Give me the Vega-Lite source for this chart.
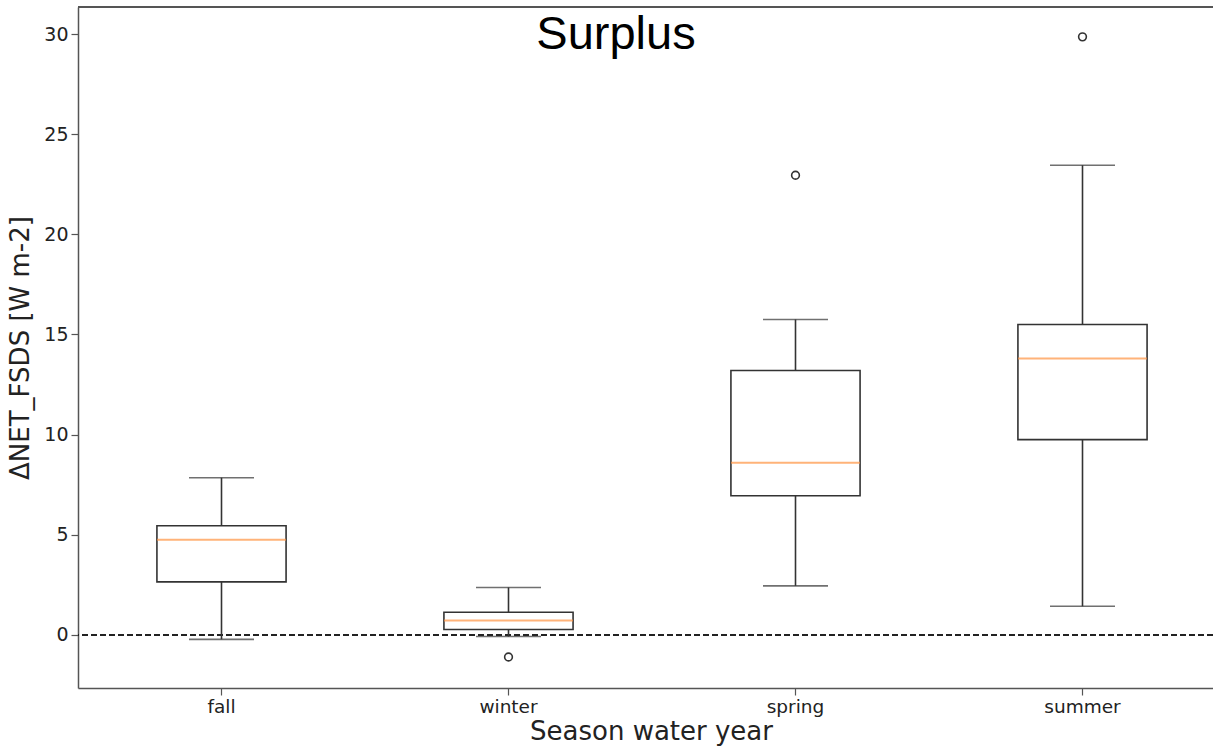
{
  "$schema": "https://vega.github.io/schema/vega-lite/v6.json",
  "width": 1135,
  "height": 681,
  "autosize": {"type": "none"},
  "padding": {"left": 78, "top": 7, "right": 0, "bottom": 60},
  "background": "white",
  "config": {
    "view": {"stroke": null},
    "axis": {
      "labelFont": "DejaVu Sans",
      "titleFont": "DejaVu Sans",
      "labelColor": "#222",
      "titleColor": "#222",
      "titleFontWeight": "normal",
      "domainColor": "#555",
      "domainWidth": 1.5,
      "tickColor": "#555",
      "tickWidth": 1.2,
      "tickSize": 7,
      "grid": false
    }
  },
  "datasets": {
    "stats": [
      {"season": "fall", "lo": -0.22, "q1": 2.65, "med": 4.75, "q3": 5.45, "hi": 7.85},
      {"season": "winter", "lo": -0.08, "q1": 0.27, "med": 0.72, "q3": 1.13, "hi": 2.37},
      {"season": "spring", "lo": 2.45, "q1": 6.95, "med": 8.6, "q3": 13.2, "hi": 15.75},
      {"season": "summer", "lo": 1.43, "q1": 9.75, "med": 13.8, "q3": 15.5, "hi": 23.45}
    ],
    "outliers": [
      {"season": "winter", "value": -1.1},
      {"season": "spring", "value": 22.95},
      {"season": "summer", "value": 29.86}
    ],
    "label": [
      {"text": "Surplus"}
    ]
  },
  "resolve": {"scale": {"x": "independent"}},
  "layer": [
    {
      "data": {"name": "stats"},
      "encoding": {
        "x": {
          "field": "season",
          "type": "nominal",
          "sort": ["fall", "winter", "spring", "summer"],
          "scale": {"type": "band", "paddingInner": 0.55, "paddingOuter": 0.275, "range": [0, 1148]},
          "axis": {
            "labelAngle": 0,
            "labelFontSize": 18.5,
            "labelPadding": 2,
            "title": "Season water year",
            "titleFontSize": 26,
            "titlePadding": 3,
            "titleX": 573,
            "domain": true
          }
        }
      },
      "layer": [
        {
          "mark": {"type": "rule", "color": "#222", "strokeWidth": 1.8, "strokeDash": [6, 3]},
          "encoding": {"x": null, "y": {"datum": 0, "type": "quantitative"}}
        },
        {
          "mark": {"type": "rule", "color": "#555", "strokeWidth": 1.5},
          "encoding": {"x": null, "y": {"datum": 31.35, "type": "quantitative"}}
        },
        {
          "mark": {"type": "rule", "color": "#333", "strokeWidth": 1.6},
          "encoding": {
            "y": {
              "field": "lo",
              "type": "quantitative",
              "scale": {"domain": [-2.65, 31.35], "nice": false, "zero": false},
              "axis": {
                "values": [0, 5, 10, 15, 20, 25, 30],
                "labelFontSize": 19,
                "labelPadding": 3,
                "title": "ΔNET_FSDS [W m-2]",
                "titleFontSize": 26,
                "titlePadding": 10
              }
            },
            "y2": {"field": "q1"}
          }
        },
        {
          "mark": {"type": "rule", "color": "#333", "strokeWidth": 1.6},
          "encoding": {"y": {"field": "q3", "type": "quantitative"}, "y2": {"field": "hi"}}
        },
        {
          "mark": {"type": "bar", "fill": "white", "fillOpacity": 0, "stroke": "#333", "strokeWidth": 1.6},
          "encoding": {"y": {"field": "q1", "type": "quantitative"}, "y2": {"field": "q3"}}
        },
        {
          "mark": {"type": "tick", "color": "#333", "size": 65, "thickness": 1.6},
          "encoding": {"y": {"field": "lo", "type": "quantitative"}}
        },
        {
          "mark": {"type": "tick", "color": "#333", "size": 65, "thickness": 1.6},
          "encoding": {"y": {"field": "hi", "type": "quantitative"}}
        },
        {
          "mark": {"type": "tick", "color": "#ff9340", "size": 129, "thickness": 2},
          "encoding": {"y": {"field": "med", "type": "quantitative"}}
        },
        {
          "data": {"name": "outliers"},
          "mark": {"type": "point", "shape": "circle", "filled": false, "color": "#333", "size": 60, "strokeWidth": 1.6, "opacity": 1},
          "encoding": {"y": {"field": "value", "type": "quantitative"}}
        }
      ]
    },
    {
      "data": {"name": "label"},
      "mark": {"type": "text", "font": "Liberation Sans", "fontSize": 47, "color": "#000", "align": "center", "baseline": "alphabetic"},
      "encoding": {
        "text": {"field": "text"},
        "x": {"datum": 0.474, "type": "quantitative", "scale": {"domain": [0, 1], "range": [0, 1135]}, "axis": null},
        "y": {"datum": 29.25, "type": "quantitative"}
      }
    }
  ]
}
